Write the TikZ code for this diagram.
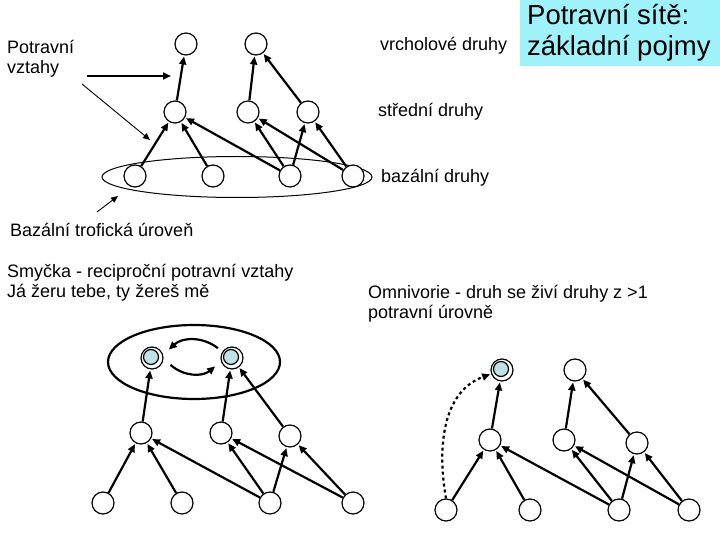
\documentclass[tikz,border=0pt]{standalone}
\usepackage{fontspec}
\setmainfont{Liberation Sans}
\usetikzlibrary{arrows.meta,shapes.geometric,calc}
\definecolor{titlecol}{RGB}{160,242,250}
\definecolor{nodecol}{RGB}{190,225,230}
\begin{document}
\begin{tikzpicture}[x=1pt,y=-1pt,
  sp/.style={circle,draw,line width=1.2pt,minimum size=22pt,inner sep=0pt,fill=white},
  spb/.style={circle,draw,line width=1.2pt,minimum size=22pt,inner sep=0pt,fill=white,path picture={\fill[nodecol,draw=black] (path picture bounding box.center)++(-1,-1) circle (7.5pt);}},
  ed/.style={-{Triangle[length=8pt,width=7pt]},line width=2.2pt,shorten >=1pt},
  lbl/.style={font=\fontsize{18}{20}\selectfont,inner sep=0pt}]
\useasboundingbox (0,0) rectangle (720,540);
% title
\fill[titlecol] (520,0) rectangle (720,66);
\node[anchor=north west,inner sep=0pt,align=left,font=\fontsize{27.5}{31}\selectfont] (title) at (527,4) {Potravní sítě:\\základní pojmy};
\node[lbl,anchor=west] (vd) at (380,46) {vrcholové druhy};
\node[lbl,anchor=west] (sd) at (378,112) {střední druhy};
\node[lbl,anchor=west] (bd) at (381,178) {bazální druhy};
\node[lbl,anchor=north west,align=left] (pv) at (7,40) {Potravní\\vztahy};
\node[lbl,anchor=west] (bt) at (10,230) {Bazální trofická úroveň};
\node[lbl,anchor=north west,align=left] (sm) at (7,264) {Smyčka - reciproční potravní vztahy\\Já žeru tebe, ty žereš mě};
\node[lbl,anchor=north west,align=left] (om) at (368,285) {Omnivorie - druh se živí druhy z >1\\potravní úrovně};
% top graph
\node[draw,line width=1pt,ellipse,minimum width=270pt,minimum height=41pt] (el1) at (237,177) {};
\node[sp] (at1) at (186,44) {}; \node[sp] (at2) at (256,44) {};
\node[sp] (am1) at (175,112) {}; \node[sp] (am2) at (248,112) {}; \node[sp] (am3) at (308,112) {};
\node[sp] (ab1) at (135,176) {}; \node[sp] (ab2) at (213,176) {}; \node[sp] (ab3) at (290,176) {}; \node[sp] (ab4) at (353,176) {};
\foreach \a/\b in {ab1/am1,ab2/am1,ab3/am1,ab3/am2,ab3/am3,ab4/am2,ab4/am3,am1/at1,am2/at2,am3/at2} \draw[ed] (\a) -- (\b);
\coordinate (p1) at (87,76); \coordinate (p2) at (172,76);
\draw[ed] (p1) -- (p2);
\coordinate (p3) at (82,84); \coordinate (p4) at (150,140);
\draw[-{Triangle[length=7pt,width=6pt]},line width=0.9pt] (p3) -- (p4);
\coordinate (p5) at (97,212); \coordinate (p6) at (118,196);
\draw[-{Triangle[length=7pt,width=6pt]},line width=0.9pt] (p5) -- (p6);
% bottom left graph
\node[draw,line width=2.2pt,ellipse,minimum width=172pt,minimum height=74pt] (el2) at (194,362) {};
\node[spb] (bt1) at (152,358) {}; \node[spb] (bt2) at (232,358) {};
\node[sp] (bm1) at (141,433) {}; \node[sp] (bm2) at (221,433) {}; \node[sp] (bm3) at (290,436) {};
\node[sp] (bb1) at (103,503) {}; \node[sp] (bb2) at (182,503) {}; \node[sp] (bb3) at (270,503) {}; \node[sp] (bb4) at (353,503) {};
\foreach \a/\b in {bb1/bm1,bb2/bm1,bb3/bm1,bb3/bm2,bb3/bm3,bb4/bm2,bb4/bm3,bm1/bt1,bm2/bt2,bm3/bt2} \draw[ed] (\a) -- (\b);
\draw[ed] ($(bt2.150)+(-4,-4)$) to[bend right=40] ($(bt1.30)+(6,-2)$);
\draw[ed] ($(bt1.-25)+(8,2)$) to[bend right=40] ($(bt2.-150)+(-6,2)$);
% bottom right graph
\node[spb] (ct1) at (502,370) {}; \node[sp] (ct2) at (575,370) {};
\node[sp] (cm1) at (490,440) {}; \node[sp] (cm2) at (564,440) {}; \node[sp] (cm3) at (637,443) {};
\node[sp] (cb1) at (446,510) {}; \node[sp] (cb2) at (530,510) {}; \node[sp] (cb3) at (619,510) {}; \node[sp] (cb4) at (689,510) {};
\foreach \a/\b in {cb1/cm1,cb2/cm1,cb3/cm1,cb3/cm2,cb3/cm3,cb4/cm2,cb4/cm3,cm1/ct1,cm2/ct2,cm3/ct2} \draw[ed] (\a) -- (\b);
\draw[ed,dashed] (cb1.north) to[out=100,in=200] (ct1.200);
\end{tikzpicture}
\end{document}
